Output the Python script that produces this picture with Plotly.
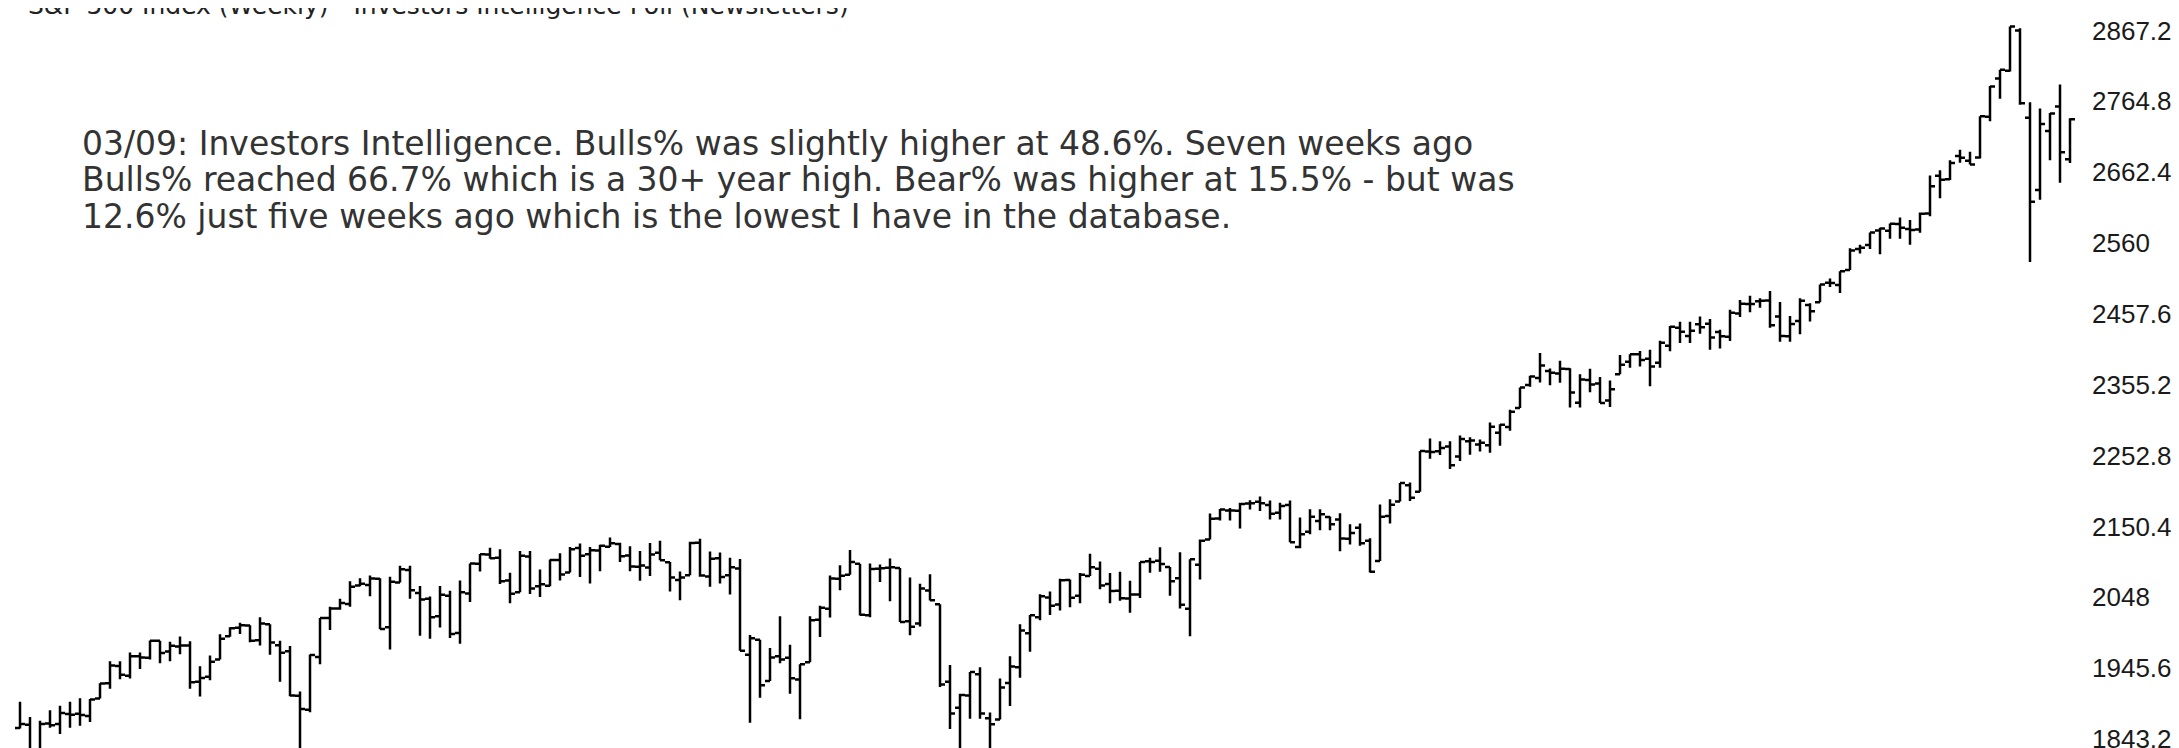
import pandas as pd
import plotly.graph_objects as go

# ---------------- data ----------------
week_start = "2014-03-31"
n_weeks = 206
weeks = pd.date_range(week_start, periods=n_weeks, freq="7D")

opens = [
    1859.2, 1863.9, 1818.2, 1865.8, 1865.0, 1879.5, 1880.0, 1876.7, 1902.0, 1923.9,
    1948.9, 1934.8, 1962.9, 1960.8, 1985.3, 1969.9, 1976.9, 1978.3, 1926.0, 1933.4,
    1958.4, 1991.7, 2004.1, 2007.2, 1986.0, 2009.1, 1978.9, 1970.0, 1905.7, 1885.6,
    1962.0, 2018.2, 2032.0, 2038.3, 2065.1, 2065.8, 2074.8, 2005.0, 2069.5, 2087.6,
    2054.4, 2046.1, 2020.8, 2050.4, 1996.7, 2053.5, 2096.5, 2109.8, 2105.2, 2072.3,
    2055.4, 2107.0, 2064.1, 2064.9, 2102.0, 2084.1, 2119.3, 2110.2, 2115.6, 2121.3,
    2125.3, 2108.6, 2092.3, 2091.3, 2112.5, 2098.6, 2073.0, 2080.0, 2126.8, 2078.2,
    2104.5, 2080.0, 2089.7, 1965.2, 1986.7, 1927.3, 1963.1, 1960.8, 1929.2, 1954.3,
    2015.7, 2031.7, 2075.1, 2080.8, 2096.6, 2022.1, 2089.4, 2090.9, 2090.4, 2013.4,
    2010.3, 2057.8, 2038.2, 1926.1, 1888.7, 1906.3, 1936.9, 1873.3, 1871.4, 1924.4,
    1947.1, 1996.1, 2019.3, 2047.9, 2037.9, 2073.2, 2050.2, 2078.8, 2089.4, 2067.2,
    2057.6, 2046.5, 2052.2, 2100.1, 2100.8, 2091.8, 2075.6, 2031.5, 2095.1, 2131.7,
    2162.0, 2173.7, 2173.2, 2183.8, 2186.1, 2181.6, 2170.2, 2181.6, 2120.9, 2143.0,
    2158.5, 2164.3, 2160.4, 2132.9, 2148.5, 2129.8, 2100.6, 2165.6, 2186.4, 2210.2,
    2200.7, 2258.8, 2259.2, 2266.2, 2251.6, 2273.6, 2269.1, 2267.8, 2286.0, 2294.3,
    2321.7, 2354.9, 2365.2, 2375.2, 2371.6, 2378.2, 2329.1, 2362.3, 2357.2, 2332.6,
    2370.3, 2388.5, 2399.4, 2393.0, 2387.2, 2411.7, 2437.8, 2425.9, 2442.6, 2443.3,
    2431.4, 2424.5, 2458.4, 2472.0, 2475.9, 2477.1, 2454.0, 2425.5, 2447.4, 2470.4,
    2474.5, 2502.5, 2499.4, 2521.2, 2551.4, 2557.2, 2578.1, 2577.8, 2587.5, 2580.2,
    2579.5, 2602.7, 2657.2, 2652.2, 2685.9, 2679.1, 2683.7, 2742.7, 2798.0, 2809.2,
    2867.2, 2741.1, 2636.8, 2722.0, 2757.4, 2681.1,
]
highs = [
    1897.3, 1875.2, 1869.6, 1884.9, 1891.3, 1897.1, 1902.2, 1901.3, 1924.0, 1955.6,
    1955.6, 1968.2, 1968.2, 1985.6, 1985.3, 1983.9, 1991.4, 1984.6, 1948.4, 1964.0,
    1994.8, 2005.0, 2011.2, 2007.7, 2019.3, 2009.1, 1985.2, 1977.8, 1912.1, 1965.3,
    2018.2, 2034.3, 2046.2, 2071.5, 2075.8, 2079.5, 2075.8, 2077.9, 2093.6, 2093.6,
    2064.4, 2049.3, 2064.6, 2057.6, 2072.4, 2097.0, 2110.6, 2119.6, 2117.5, 2083.5,
    2114.9, 2114.9, 2088.2, 2102.6, 2111.9, 2120.9, 2125.9, 2120.9, 2123.9, 2134.7,
    2127.1, 2121.9, 2115.0, 2126.6, 2129.9, 2099.1, 2085.4, 2128.3, 2132.8, 2114.2,
    2112.7, 2105.4, 2103.5, 1993.5, 1986.7, 1975.0, 2020.9, 1979.6, 1951.4, 2020.9,
    2035.9, 2079.7, 2094.3, 2116.5, 2096.6, 2097.1, 2095.6, 2104.3, 2090.4, 2076.7,
    2067.6, 2081.6, 2038.2, 1950.3, 1908.9, 1940.2, 1947.2, 1881.6, 1930.7, 1962.9,
    2009.1, 2022.4, 2052.4, 2056.6, 2075.1, 2074.0, 2083.4, 2111.1, 2099.9, 2083.4,
    2084.9, 2071.9, 2099.1, 2105.3, 2120.6, 2091.8, 2113.3, 2103.0, 2131.7, 2169.1,
    2175.6, 2177.1, 2184.9, 2188.5, 2193.8, 2187.9, 2184.9, 2187.9, 2163.3, 2175.3,
    2175.3, 2165.0, 2169.6, 2153.6, 2154.8, 2133.3, 2182.3, 2189.9, 2213.4, 2214.1,
    2259.5, 2277.5, 2273.8, 2273.8, 2282.1, 2279.3, 2276.1, 2300.9, 2298.3, 2319.2,
    2351.3, 2368.3, 2401.0, 2378.8, 2390.0, 2379.0, 2370.4, 2378.4, 2366.4, 2361.4,
    2398.2, 2399.4, 2403.9, 2405.8, 2418.7, 2440.2, 2446.2, 2446.2, 2453.8, 2450.4,
    2434.8, 2463.5, 2477.6, 2484.0, 2480.4, 2490.9, 2474.9, 2454.8, 2480.4, 2472.9,
    2500.2, 2508.9, 2519.4, 2552.5, 2557.6, 2575.4, 2582.1, 2588.4, 2597.0, 2593.4,
    2604.2, 2657.7, 2665.2, 2679.6, 2695.0, 2692.1, 2743.2, 2787.0, 2810.3, 2872.9,
    2870.6, 2763.4, 2754.4, 2747.8, 2789.2, 2740.5,
]
lows = [
    1858.6, 1814.4, 1815.8, 1859.7, 1850.6, 1859.8, 1862.4, 1868.1, 1902.0, 1915.9,
    1929.6, 1930.9, 1944.7, 1958.2, 1952.9, 1955.6, 1965.8, 1916.1, 1904.8, 1928.3,
    1958.4, 1991.0, 1995.0, 1983.0, 1978.6, 1965.0, 1926.0, 1905.0, 1820.7, 1882.2,
    1951.4, 2001.0, 2030.2, 2034.5, 2064.0, 2049.6, 2002.1, 1972.6, 2069.5, 2046.0,
    1992.4, 1988.1, 2004.5, 1989.2, 1980.9, 2041.3, 2085.4, 2103.8, 2067.3, 2039.7,
    2055.4, 2053.0, 2048.4, 2064.0, 2072.4, 2084.1, 2077.5, 2067.9, 2085.7, 2120.8,
    2099.2, 2085.7, 2072.1, 2079.0, 2101.5, 2056.6, 2044.0, 2080.0, 2077.9, 2063.5,
    2067.9, 2052.1, 1970.9, 1867.0, 1903.1, 1927.3, 1953.0, 1908.8, 1871.9, 1954.3,
    1990.7, 2019.0, 2058.4, 2080.8, 2022.0, 2019.4, 2070.3, 2042.4, 2012.4, 1993.3,
    2005.9, 2043.6, 1918.5, 1857.8, 1812.3, 1872.7, 1872.7, 1810.1, 1871.4, 1891.0,
    1931.8, 1969.3, 2015.0, 2022.5, 2028.9, 2033.8, 2039.7, 2078.8, 2059.6, 2039.7,
    2043.0, 2025.9, 2047.1, 2083.7, 2085.2, 2050.4, 2032.1, 1991.7, 2074.0, 2131.7,
    2159.0, 2159.1, 2147.6, 2175.0, 2173.0, 2160.4, 2160.4, 2127.8, 2119.1, 2139.2,
    2145.0, 2144.9, 2114.7, 2124.4, 2122.5, 2083.8, 2100.6, 2154.8, 2186.4, 2187.4,
    2200.7, 2248.4, 2253.6, 2233.6, 2245.1, 2254.3, 2258.8, 2257.0, 2267.2, 2288.9,
    2321.7, 2352.5, 2358.5, 2354.5, 2358.1, 2322.3, 2322.3, 2344.5, 2328.9, 2323.0,
    2370.3, 2379.8, 2381.7, 2353.0, 2379.8, 2403.8, 2415.7, 2415.7, 2428.8, 2405.7,
    2407.7, 2418.5, 2453.3, 2459.9, 2466.5, 2437.8, 2417.3, 2417.4, 2428.2, 2446.6,
    2474.5, 2496.7, 2488.0, 2521.2, 2545.0, 2551.6, 2544.0, 2566.2, 2566.3, 2557.5,
    2575.0, 2598.7, 2624.8, 2651.3, 2676.1, 2673.6, 2682.4, 2736.1, 2768.6, 2808.1,
    2760.0, 2532.7, 2622.5, 2679.8, 2647.3, 2675.8,
]
closes = [
    1865.1, 1815.7, 1864.9, 1863.4, 1881.1, 1878.5, 1877.9, 1900.5, 1923.6, 1949.4,
    1936.2, 1962.9, 1961.0, 1985.4, 1967.6, 1978.2, 1978.3, 1925.2, 1931.6, 1955.1,
    1988.4, 2003.4, 2007.7, 1985.5, 2010.4, 1982.9, 1967.9, 1906.1, 1886.8, 1964.6,
    2018.1, 2031.9, 2039.8, 2063.5, 2067.6, 2075.4, 2002.3, 2070.7, 2088.8, 2058.2,
    2044.8, 2019.4, 2051.8, 1995.0, 2055.5, 2097.0, 2110.3, 2104.5, 2071.3, 2053.4,
    2108.1, 2061.0, 2067.0, 2102.1, 2081.2, 2117.7, 2108.3, 2116.1, 2122.7, 2126.1,
    2107.4, 2092.8, 2094.1, 2110.0, 2101.5, 2076.8, 2076.6, 2126.6, 2079.7, 2103.8,
    2077.6, 2091.5, 1970.9, 1988.9, 1921.2, 1961.1, 1958.1, 1931.3, 1951.4, 2014.9,
    2033.1, 2075.2, 2079.4, 2099.2, 2023.0, 2089.2, 2090.1, 2091.7, 2012.4, 2005.6,
    2061.0, 2043.9, 1922.0, 1880.3, 1906.9, 1940.2, 1880.1, 1864.8, 1917.8, 1948.1,
    2000.0, 2022.2, 2049.6, 2035.9, 2072.8, 2047.6, 2080.7, 2091.6, 2065.3, 2057.1,
    2046.6, 2052.3, 2099.1, 2099.1, 2096.1, 2071.2, 2037.4, 2103.0, 2129.9, 2161.7,
    2175.0, 2173.6, 2182.9, 2184.1, 2183.9, 2169.0, 2180.0, 2127.8, 2139.2, 2164.7,
    2168.3, 2153.7, 2133.0, 2141.2, 2126.4, 2085.2, 2164.5, 2181.9, 2213.4, 2192.0,
    2259.5, 2258.1, 2263.8, 2238.8, 2277.0, 2274.6, 2271.3, 2294.7, 2297.4, 2316.1,
    2351.2, 2367.3, 2383.1, 2372.6, 2378.3, 2344.0, 2362.7, 2355.5, 2329.0, 2348.7,
    2384.2, 2399.3, 2390.9, 2381.7, 2415.8, 2439.1, 2431.8, 2433.2, 2438.3, 2423.4,
    2425.2, 2459.3, 2472.5, 2472.1, 2476.8, 2441.3, 2425.6, 2443.1, 2476.6, 2461.4,
    2500.2, 2502.2, 2519.4, 2549.3, 2553.2, 2575.2, 2581.1, 2587.8, 2582.3, 2578.9,
    2602.4, 2642.2, 2651.5, 2675.8, 2683.3, 2673.6, 2743.2, 2786.2, 2810.3, 2872.9,
    2762.1, 2619.6, 2732.2, 2747.3, 2691.3, 2739.0,
]

tick_values = [1843.2, 1945.6, 2048, 2150.4, 2252.8, 2355.2, 2457.6, 2560, 2662.4, 2764.8, 2867.2]
tick_labels = ["1843.2", "1945.6", "2048", "2150.4", "2252.8", "2355.2", "2457.6", "2560", "2662.4", "2764.8", "2867.2"]

title_text = "S&P 500 Index (Weekly) - Investors Intelligence Poll (Newsletters)"
note_lines = [
    "03/09: Investors Intelligence. Bulls% was slightly higher at 48.6%. Seven weeks ago",
    "Bulls% reached 66.7% which is a 30+ year high. Bear% was higher at 15.5% - but was",
    "12.6% just five weeks ago which is the lowest I have in the database.",
]

# ---------------- layout constants ----------------
W, H = 2179, 748
R_MARGIN = 104
PLOT_W = W - R_MARGIN
y_range = [1818.8, 2899.7]

d0 = pd.Timestamp(week_start)
x_start = d0 - pd.Timedelta(days=8.4)
x_end = d0 + pd.Timedelta(days=1444.1)

fig = go.Figure()
fig.add_trace(go.Ohlc(
    x=weeks, open=opens, high=highs, low=lows, close=closes,
    increasing=dict(line=dict(color="#000000", width=2.5)),
    decreasing=dict(line=dict(color="#000000", width=2.5)),
    tickwidth=0.5,
    showlegend=False,
    hoverinfo="skip",
))

def ypaper(px):
    return 1 - px / H

annotations = [
    dict(text=title_text, xref="paper", yref="paper", x=18 / PLOT_W, y=ypaper(-2.0),
         xanchor="left", yanchor="middle", showarrow=False,
         font=dict(family="DejaVu Sans", size=25, color="#222222")),
]
line_middles = [135.3, 171.9, 208.6]
for line, m in zip(note_lines, line_middles):
    annotations.append(dict(
        text=line, xref="paper", yref="paper", x=72 / PLOT_W, y=ypaper(m),
        xanchor="left", yanchor="middle", showarrow=False,
        font=dict(family="DejaVu Sans", size=33, color="#333333"),
    ))

fig.update_layout(
    width=W, height=H,
    margin=dict(l=0, r=R_MARGIN, t=0, b=0, pad=0),
    paper_bgcolor="#ffffff", plot_bgcolor="#ffffff",
    showlegend=False,
    annotations=annotations,
    xaxis=dict(type="date", range=[x_start, x_end], visible=False,
               rangeslider=dict(visible=False), showgrid=False, zeroline=False),
    yaxis=dict(side="right", range=y_range, tickvals=tick_values, ticktext=tick_labels,
               showgrid=False, zeroline=False, showline=False, ticks="",
               ticklabelstandoff=8,
               tickfont=dict(family="Liberation Sans", size=26, color="#1a1a1a")),
)

fig.write_html("out.html", config={"displayModeBar": False})
